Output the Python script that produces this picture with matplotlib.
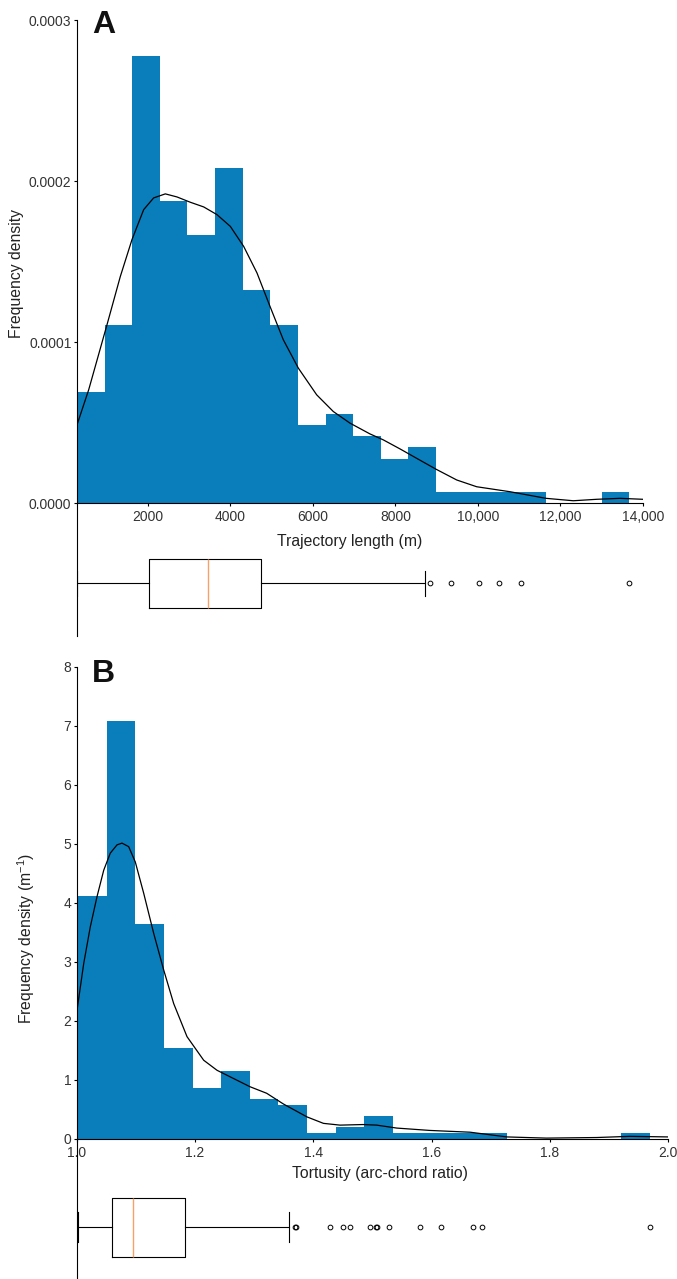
import numpy as np
import matplotlib.pyplot as plt

plt.rcParams['font.family'] = ['Liberation Sans', 'DejaVu Sans']
plt.rcParams['mathtext.fontset'] = 'custom'
plt.rcParams['mathtext.rm'] = 'Liberation Sans'
plt.rcParams['mathtext.it'] = 'Liberation Sans:italic'

# ---- panel A: trajectory length ----
length_min, length_max, length_nbins = 279, 13668, 20
length_density = [0.692, 1.107, 2.774, 1.874, 1.667, 2.083, 1.320, 1.107, 0.487, 0.553,
                  0.417, 0.274, 0.348, 0.069, 0.069, 0.069, 0.069, 0.0, 0.0, 0.069]  # x1e-4
length_kde_x = [279, 562, 1006, 1329, 1612, 1895, 2137, 2420, 2703, 3026, 3350, 3673,
                3996, 4319, 4642, 4958, 5280, 5644, 6089, 6493, 6897, 7382, 7705, 8109,
                8600, 8982, 9484, 9968, 10776, 11648, 12310, 12877, 13442, 14000]
length_kde_y = [0.485, 0.703, 1.107, 1.407, 1.636, 1.822, 1.895, 1.920, 1.901, 1.868,
                1.839, 1.791, 1.718, 1.594, 1.429, 1.221, 1.014, 0.838, 0.672, 0.568,
                0.496, 0.429, 0.392, 0.336, 0.265, 0.21, 0.143, 0.101, 0.07, 0.029,
                0.014, 0.023, 0.029, 0.023]  # x1e-4
length_box = dict(whislo=279, q1=2029, med=3455, q3=4735, whishi=8720,
                  fliers=[8846, 9345, 10030, 10502, 11047, 13668])
length_xticks = [2000, 4000, 6000, 8000, 10000, 12000, 14000]
length_xticklabels = ['2000', '4000', '6000', '8000', '10,000', '12,000', '14,000']
length_yticks = [0, 0.0001, 0.0002, 0.0003]
length_yticklabels = ['0.0000', '0.0001', '0.0002', '0.0003']

# ---- panel B: tortuosity ----
tort_min, tort_max, tort_nbins = 1.0025, 1.969, 20
tort_density = [4.11, 7.08, 3.64, 1.54, 0.86, 1.14, 0.67, 0.57, 0.095, 0.19,
                0.38, 0.095, 0.095, 0.095, 0.095, 0.0, 0.0, 0.0, 0.0, 0.095]
tort_kde_x = [1.0, 1.0117, 1.0228, 1.0341, 1.0455, 1.0566, 1.068, 1.0764, 1.0877, 1.0989,
              1.1131, 1.130, 1.1469, 1.1638, 1.1863, 1.2145, 1.237, 1.265, 1.293, 1.321,
              1.349, 1.389, 1.417, 1.445, 1.484, 1.507, 1.541, 1.597, 1.665, 1.727,
              1.794, 1.879, 1.935, 2.0]
tort_kde_y = [2.15, 2.97, 3.59, 4.10, 4.55, 4.84, 4.98, 5.01, 4.95, 4.69, 4.16, 3.48,
              2.86, 2.29, 1.73, 1.33, 1.16, 1.02, 0.88, 0.77, 0.59, 0.37, 0.26, 0.23,
              0.24, 0.23, 0.18, 0.14, 0.11, 0.03, 0.01, 0.02, 0.04, 0.03]
tort_box = dict(whislo=1.0025, q1=1.0588, med=1.0954, q3=1.1824, whishi=1.358,
                fliers=[1.369, 1.371, 1.4274, 1.450, 1.4624, 1.4953, 1.5063, 1.508,
                        1.528, 1.5795, 1.616, 1.669, 1.6855, 1.9693])
tort_xticks = [1.0, 1.2, 1.4, 1.6, 1.8, 2.0]
tort_xticklabels = ['1.0', '1.2', '1.4', '1.6', '1.8', '2.0']
tort_yticks = [0, 1, 2, 3, 4, 5, 6, 7, 8]

bar_color = '#0a7dbb'
text_color = '#333333'

W, H = 677, 1279
fig = plt.figure(figsize=(W / 100, H / 100), dpi=100)


def px_axes(left, top, right, bottom):
    return fig.add_axes([left / W, 1 - bottom / H, (right - left) / W, (bottom - top) / H])


def style_hist(ax):
    for s in ['top', 'right']:
        ax.spines[s].set_visible(False)
    for s in ['left', 'bottom']:
        ax.spines[s].set_linewidth(0.8)
    ax.tick_params(direction='out', length=2.5, width=0.8, labelsize=10,
                   labelcolor=text_color)
    ax.tick_params(axis='x', pad=2.7)
    ax.tick_params(axis='y', pad=1.5)


def style_box(ax, stats, xlim, height, pos, width):
    ax.patch.set_visible(False)
    for s in ['top', 'right', 'bottom']:
        ax.spines[s].set_visible(False)
    ax.spines['left'].set_linewidth(0.8)
    ax.bxp([dict(stats, label='')], positions=[pos], widths=[width],
           orientation='horizontal', showfliers=True, manage_ticks=False,
           boxprops=dict(color='black', linewidth=0.8),
           whiskerprops=dict(color='black', linewidth=0.8),
           capprops=dict(color='black', linewidth=0.8),
           medianprops=dict(color='#f4a268', linewidth=1.0),
           flierprops=dict(marker='o', markersize=3.4, markerfacecolor='none',
                           markeredgecolor='black', markeredgewidth=0.7))
    ax.set_xticks([])
    ax.set_yticks([])
    ax.set_xlim(*xlim)
    ax.set_ylim(0, height)


# panel A histogram
ax_a = px_axes(77, 20, 643, 503)
edges_a = np.linspace(length_min, length_max, length_nbins + 1)
ax_a.bar(edges_a[:-1], np.array(length_density) * 1e-4, width=np.diff(edges_a),
         align='edge', color=bar_color, linewidth=0)
ax_a.plot(length_kde_x, np.array(length_kde_y) * 1e-4, color='black', linewidth=0.9)
ax_a.set_xlim(length_min, 14000)
ax_a.set_ylim(0, 0.0003)
ax_a.set_xticks(length_xticks)
ax_a.set_xticklabels(length_xticklabels)
ax_a.set_yticks(length_yticks)
ax_a.set_yticklabels(length_yticklabels)
style_hist(ax_a)
ax_a.set_xlabel('Trajectory length (m)', fontsize=11.3, color='#222222')
ax_a.xaxis.label.set_va('center')
ax_a.xaxis.set_label_coords(0.481, -38 / 483)
ax_a.set_ylabel('Frequency density', fontsize=11.3, color='#222222')
ax_a.yaxis.label.set_va('center')
ax_a.yaxis.set_label_coords(-60 / 566, 0.476)

ax_a_box = px_axes(77, 503, 643, 636)
style_box(ax_a_box, length_box, (length_min, 14000), 133, 52.7, 49)

# panel B histogram
ax_b = px_axes(76.8, 666.7, 668.3, 1138.7)
edges_b = np.linspace(tort_min, tort_max, tort_nbins + 1)
ax_b.bar(edges_b[:-1], tort_density, width=np.diff(edges_b),
         align='edge', color=bar_color, linewidth=0)
ax_b.plot(tort_kde_x, tort_kde_y, color='black', linewidth=0.9)
ax_b.set_xlim(1.0, 2.0)
ax_b.set_ylim(0, 8)
ax_b.set_xticks(tort_xticks)
ax_b.set_xticklabels(tort_xticklabels)
ax_b.set_yticks(tort_yticks)
style_hist(ax_b)
ax_b.set_xlabel('Tortusity (arc-chord ratio)', fontsize=11.3, color='#222222')
ax_b.xaxis.label.set_va('center')
ax_b.xaxis.set_label_coords(0.5118, -34.5 / 472)
ax_b.set_ylabel('Frequency density (m$^{\\mathregular{-1}}$)', fontsize=11.3, color='#222222')
ax_b.yaxis.label.set_va('center')
ax_b.yaxis.set_label_coords(-51 / 591.5, 0.4246)

ax_b_box = px_axes(76.8, 1138.7, 668.3, 1279)
style_box(ax_b_box, tort_box, (1.0, 2.0), 140.3, 51.7, 59.4)

# panel letters
fig.text(92 / W, 1 - 33 / H, 'A', fontsize=23, fontweight='bold', color='#111111',
         ha='left', va='baseline')
fig.text(92 / W, 1 - 681.5 / H, 'B', fontsize=23, fontweight='bold', color='#111111',
         ha='left', va='baseline')

fig.savefig('out.png', dpi=100)
